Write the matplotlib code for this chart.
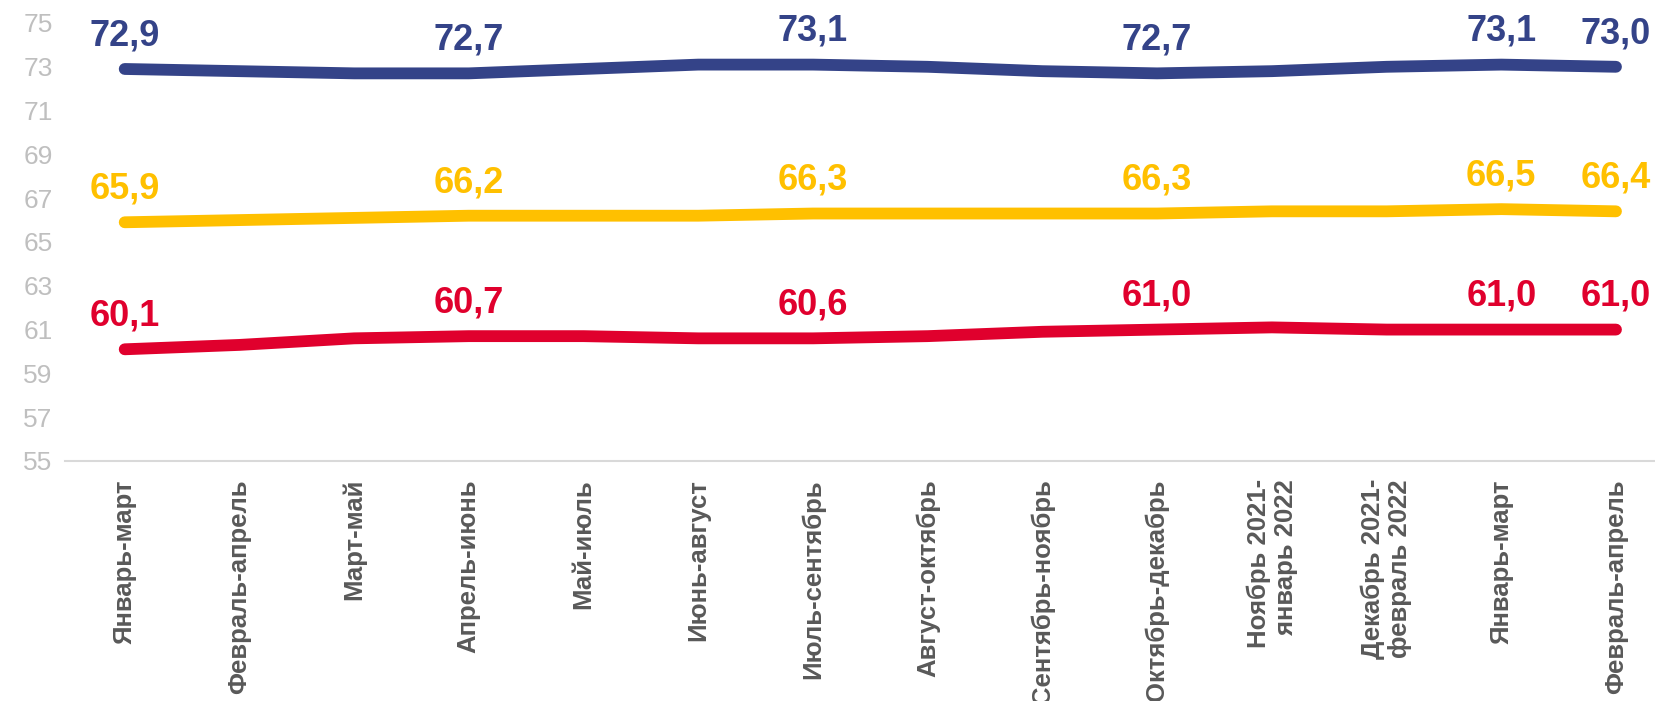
import matplotlib.pyplot as plt

plt.rcParams['font.family'] = ['Liberation Sans', 'DejaVu Sans']

categories = ['Январь-март', 'Февраль-апрель', 'Март-май', 'Апрель-июнь', 'Май-июль',
              'Июнь-август', 'Июль-сентябрь', 'Август-октябрь', 'Сентябрь-ноябрь',
              'Октябрь-декабрь', 'Ноябрь 2021-\nянварь 2022', 'Декабрь 2021-\nфевраль 2022',
              'Январь-март', 'Февраль-апрель']

blue_vals = [72.9, 72.8, 72.7, 72.7, 72.9, 73.1, 73.1, 73.0, 72.8, 72.7, 72.8, 73.0, 73.1, 73.0]
yellow_vals = [65.9, 66.0, 66.1, 66.2, 66.2, 66.2, 66.3, 66.3, 66.3, 66.3, 66.4, 66.4, 66.5, 66.4]
red_vals = [60.1, 60.3, 60.6, 60.7, 60.7, 60.6, 60.6, 60.7, 60.9, 61.0, 61.1, 61.0, 61.0, 61.0]
label_idx = [0, 3, 6, 9, 12, 13]
y_ticks = list(range(55, 76, 2))

series = [(blue_vals, '#344388'), (yellow_vals, '#FFC000'), (red_vals, '#E0002D')]

fig = plt.figure(figsize=(16.55, 7.01), dpi=100)
ax = fig.add_axes([0.0393, 0.3424, 0.9607, 0.6248])

x = list(range(len(categories)))
for vals, col in series:
    ax.plot(x, vals, color=col, linewidth=8.5, solid_capstyle='round', solid_joinstyle='round')
    for i in label_idx:
        ax.annotate(f'{vals[i]:.1f}'.replace('.', ','), (x[i], vals[i]), xytext=(0, 17),
                    textcoords='offset points', ha='center', va='baseline',
                    fontsize=26, fontweight='bold', color=col, annotation_clip=False)

ax.set_xlim(-0.52, 13.34)
ax.set_ylim(55, 75)
ax.set_yticks(y_ticks)
ax.set_xticks(x)
ax.set_xticklabels(categories, rotation=90, fontsize=18.5, fontweight='bold', color='#595959',
                   va='top', ha='center', multialignment='right', linespacing=1.15)
ax.tick_params(axis='x', length=0, pad=13)
ax.tick_params(axis='y', length=0, pad=9, labelsize=19, labelcolor='#BFBFBF')

for s in ['left', 'right', 'top']:
    ax.spines[s].set_visible(False)
ax.spines['bottom'].set_color('#D9D9D9')
ax.spines['bottom'].set_linewidth(1.5)

fig.savefig('out.png', dpi=100)
